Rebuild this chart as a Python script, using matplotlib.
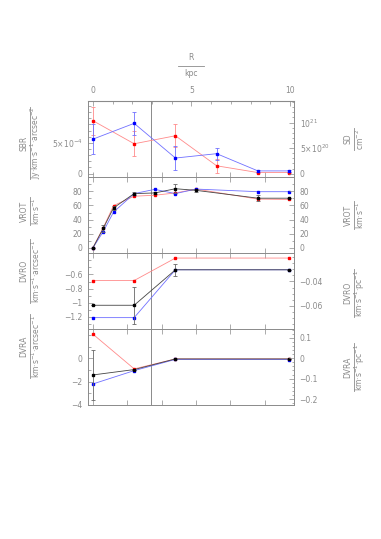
import matplotlib
matplotlib.use("Agg")
import matplotlib.pyplot as plt
from matplotlib.ticker import MultipleLocator, FixedLocator
from matplotlib.lines import Line2D

# ring radii in arcsec, converted to kpc for the top axis
KPC_PER_AS = 0.01745
R_sbr = [0, 120, 240, 360, 480, 570]
R_vrot = [0, 30, 60, 120, 180, 240, 300, 480, 570]
R_dv = [0, 120, 240, 570]
R_mark_kpc = 2.94

# surface brightness (Jy km/s/arcsec^2)
sbr_red = [8.6e-4, 4.85e-4, 6.15e-4, 1.27e-4, 0.17e-4, 0.17e-4]
sbr_red_err = [2.3e-4, 2.0e-4, 1.9e-4, 1.1e-4, 0.05e-4, 0.05e-4]
sbr_blue = [5.6e-4, 8.17e-4, 2.53e-4, 3.24e-4, 0.44e-4, 0.44e-4]
sbr_blue_err = [2.4e-4, 1.9e-4, 1.9e-4, 1.0e-4, 0.1e-4, 0.1e-4]
SD_PER_SBR = 1.206e24

# rotation curve
vrot_black = [0, 27.6, 56.6, 76.8, 77.7, 83.7, 81.4, 70.3, 70.3]
vrot_black_err = [0, 5, 3, 2.5, 2, 6, 2, 4, 0]
vrot_red = [0, 28.5, 59.8, 73.1, 74.5, 77.7, 83.2, 69.0, 68.5]
vrot_blue = [0, 23.0, 50.6, 76.8, 82.8, 76.8, 83.2, 79.5, 79.5]

# gradients (km/s/arcsec)
dvro_black = [-1.038, -1.038, -0.533, -0.533]
dvro_black_err = [0, 0.26, 0.085, 0]
dvro_red = [-0.686, -0.686, -0.366, -0.366]
dvro_blue = [-1.214, -1.214, -0.533, -0.533]

dvra_black = [-1.43, -0.97, -0.06, -0.06]
dvra_black_err = [2.14, 0, 0, 0]
dvra_red = [2.06, -0.91, -0.06, -0.06]
dvra_blue = [-2.2, -1.06, -0.10, -0.11]
PC_PER_AS = 17.45

GRAY = "#8a8a8a"
RED = ("#ff8a8a", "#ff0000")
BLUE = ("#7070ff", "#0000ff")
BLACK = ("#444444", "#000000")

plt.rcParams["font.family"] = "DejaVu Sans"
plt.rcParams["font.size"] = 5.5
plt.rcParams["mathtext.fontset"] = "dejavusans"

fig = plt.figure(figsize=(3.81, 5.39), dpi=100)
W, H = 381.0, 539.0
gs = fig.add_gridspec(4, 1, left=88 / W, right=294 / W, top=1 - 101 / H,
                      bottom=1 - 405 / H, hspace=0)
axes = [fig.add_subplot(gs[i]) for i in range(4)]


def series(ax, x, y, err, cols, z):
    ax.errorbar(x, y, yerr=err, color=cols[0], ecolor=cols[0] if cols != BLACK else "#666666",
                lw=0.6, elinewidth=0.6, capsize=1.6, capthick=0.6, marker="s", ms=2.0,
                mfc=cols[1], mec=cols[1], zorder=z)


def style(ax, top=True):
    for s in ax.spines.values():
        s.set_color(GRAY)
        s.set_linewidth(0.7)
    ax.tick_params(which="both", direction="in", colors=GRAY, labelcolor=GRAY,
                   width=0.5, pad=4, top=top, bottom=True, right=False)
    ax.tick_params(which="major", length=3.5)
    ax.tick_params(which="minor", length=1.8)
    ax.tick_params(axis="x", labelbottom=False)


for ax in axes:
    ax.set_xlim(-14.3, 585)
    ax.xaxis.set_major_locator(FixedLocator([0, 100, 200, 300, 400, 500]))
    ax.axvline(R_mark_kpc / KPC_PER_AS, color=GRAY, lw=0.7, zorder=1)

# panel 1: SBR / SD
ax = axes[0]
series(ax, R_sbr, sbr_red, sbr_red_err, RED, 3)
series(ax, R_sbr, sbr_blue, sbr_blue_err, BLUE, 4)
ax.set_ylim(-0.55e-4, 1.18e-3)
ax.yaxis.set_major_locator(FixedLocator([0, 5e-4]))
ax.set_yticklabels(["0", "5×10$^{-4}$"])
ax.yaxis.set_minor_locator(MultipleLocator(1e-4))
style(ax, top=False)
sec = ax.secondary_xaxis("top", functions=(lambda a: a * KPC_PER_AS, lambda k: k / KPC_PER_AS))
sec.xaxis.set_major_locator(FixedLocator([0, 5, 10]))
sec.set_xticklabels(["0", "5", "10"])
sec.xaxis.set_minor_locator(FixedLocator([1, 2, 3, 4, 6, 7, 8, 9]))
sec.spines["top"].set_color(GRAY)
sec.tick_params(which="both", direction="in", colors=GRAY, labelcolor=GRAY, width=0.5, pad=4)
sec.tick_params(which="major", length=3.5)
sec.tick_params(which="minor", length=1.8)
tw = ax.twinx()
lo, hi = ax.get_ylim()
tw.set_ylim(lo * SD_PER_SBR, hi * SD_PER_SBR)
tw.yaxis.set_major_locator(FixedLocator([0, 5e20, 1e21]))
tw.set_yticklabels(["0", "5×10$^{20}$", "10$^{21}$"])
tw.yaxis.set_minor_locator(MultipleLocator(1e20))
twins = [tw]

# panel 2: VROT
ax = axes[1]
series(ax, R_vrot, vrot_red, None, RED, 3)
series(ax, R_vrot, vrot_blue, None, BLUE, 4)
series(ax, R_vrot, vrot_black, vrot_black_err, BLACK, 5)
ax.set_ylim(-7.3, 100.3)
ax.yaxis.set_major_locator(FixedLocator([0, 20, 40, 60, 80]))
ax.yaxis.set_minor_locator(MultipleLocator(10))
style(ax)
tw = ax.twinx()
tw.set_ylim(ax.get_ylim())
tw.yaxis.set_major_locator(FixedLocator([0, 20, 40, 60, 80]))
tw.yaxis.set_minor_locator(MultipleLocator(10))
twins.append(tw)

# panel 3: DVRO
ax = axes[2]
series(ax, R_dv, dvro_red, None, RED, 3)
series(ax, R_dv, dvro_blue, None, BLUE, 4)
series(ax, R_dv, dvro_black, dvro_black_err, BLACK, 5)
ax.set_ylim(-1.376, -0.294)
ax.yaxis.set_major_locator(FixedLocator([-1.2, -1.0, -0.8, -0.6]))
ax.set_yticklabels(["−1.2", "−1", "−0.8", "−0.6"])
ax.yaxis.set_minor_locator(MultipleLocator(0.1))
style(ax)
tw = ax.twinx()
lo, hi = ax.get_ylim()
tw.set_ylim(lo / PC_PER_AS, hi / PC_PER_AS)
tw.yaxis.set_major_locator(FixedLocator([-0.06, -0.04]))
tw.set_yticklabels(["−0.06", "−0.04"])
tw.yaxis.set_minor_locator(MultipleLocator(0.005))
twins.append(tw)

# panel 4: DVRA
ax = axes[3]
series(ax, R_dv, dvra_red, None, RED, 3)
series(ax, R_dv, dvra_blue, None, BLUE, 4)
series(ax, R_dv, dvra_black, dvra_black_err, BLACK, 5)
ax.set_ylim(-4.0, 2.5)
ax.yaxis.set_major_locator(FixedLocator([-4, -2, 0]))
ax.set_yticklabels(["−4", "−2", "0"])
ax.yaxis.set_minor_locator(MultipleLocator(1))
style(ax)
tw = ax.twinx()
lo, hi = ax.get_ylim()
tw.set_ylim(lo / PC_PER_AS, hi / PC_PER_AS)
tw.yaxis.set_major_locator(FixedLocator([-0.2, -0.1, 0, 0.1]))
tw.set_yticklabels(["−0.2", "−0.1", "0", "0.1"])
tw.yaxis.set_minor_locator(MultipleLocator(0.02))
twins.append(tw)

for tw in twins:
    for s in tw.spines.values():
        s.set_visible(False)
    tw.tick_params(which="both", direction="in", colors=GRAY, labelcolor=GRAY,
                   width=0.5, pad=4, left=False, right=True)
    tw.tick_params(which="major", length=3.5)
    tw.tick_params(which="minor", length=1.8)

renderer = fig.canvas.get_renderer()


def frac(xc, yc, num, den, rot=90):
    # stacked "quantity over unit" label, drawn in pixel positions
    dx = 6
    if rot == 90:
        t1 = fig.text((xc - dx) / W, 1 - yc / H, num, rotation=90, ha="center", va="center", color=GRAY)
        t2 = fig.text((xc + dx) / W, 1 - yc / H, den, rotation=90, ha="center", va="center", color=GRAY)
        ext = max(t1.get_window_extent(renderer).height, t2.get_window_extent(renderer).height)
        fig.add_artist(Line2D([xc / W, xc / W], [1 - (yc - ext / 2) / H, 1 - (yc + ext / 2) / H],
                              color=GRAY, lw=0.6, transform=fig.transFigure))
    else:
        t1 = fig.text(xc / W, 1 - (yc - dx - 2) / H, num, ha="center", va="center", color=GRAY)
        t2 = fig.text(xc / W, 1 - (yc + dx + 2) / H, den, ha="center", va="center", color=GRAY)
        ext = max(t1.get_window_extent(renderer).width, t2.get_window_extent(renderer).width) + 12
        fig.add_artist(Line2D([(xc - ext / 2) / W, (xc + ext / 2) / W], [1 - yc / H, 1 - yc / H],
                              color=GRAY, lw=0.6, transform=fig.transFigure))


frac(191, 66, "R", "kpc", rot=0)

frac(30, 143, "SBR", "Jy·km·s$^{-1}$·arcsec$^{-2}$")
frac(30, 211, "VROT", "km·s$^{-1}$")
frac(30, 271, "DVRO", "km·s$^{-1}$·arcsec$^{-1}$")
frac(30, 346, "DVRA", "km·s$^{-1}$·arcsec$^{-1}$")

frac(354, 139, "SD", "cm$^{-2}$")
frac(354, 215, "VROT", "km·s$^{-1}$")
frac(354, 293, "DVRO", "km·s$^{-1}$·pc$^{-1}$")
frac(354, 367, "DVRA", "km·s$^{-1}$·pc$^{-1}$")

fig.savefig("out.png", dpi=100)
